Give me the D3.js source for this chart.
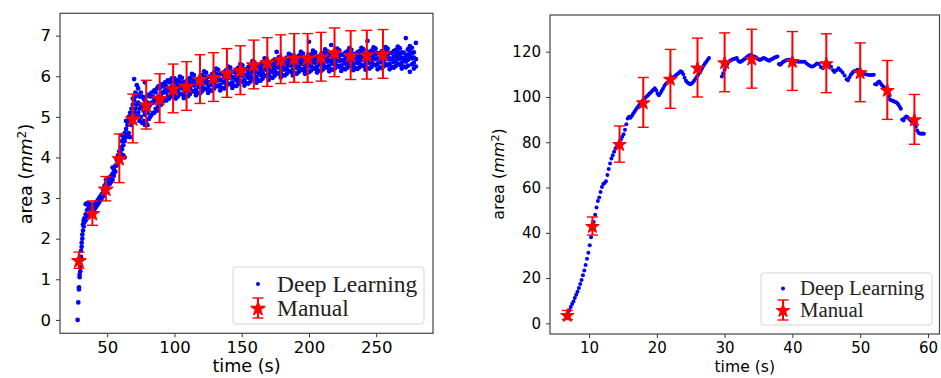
<!DOCTYPE html>
<html>
<head>
<meta charset="utf-8">
<script src="https://cdn.jsdelivr.net/npm/d3@7"></script>
<style>
  body { margin: 0; background: #fff; }
  svg { display: block; }
  .tick text { font-family: "DejaVu Sans", sans-serif; fill: #000; }
  .lbl { font-family: "DejaVu Sans", sans-serif; fill: #000; }
  .leg { font-family: "Liberation Serif", serif; fill: #222; }
</style>
</head>
<body>
<svg id="chart" width="941" height="378"></svg>
<script>
// ---- left panel: manual measurements (time, area, error)
const manualLeftTime = [29, 39, 49, 59, 69, 79, 89, 99, 109, 119, 129, 139, 149, 159, 169, 179, 189, 199, 209, 219, 231, 243, 255];
const manualLeftArea = [1.47, 2.63, 3.23, 3.98, 4.96, 5.30, 5.46, 5.70, 5.76, 5.93, 5.98, 6.08, 6.15, 6.29, 6.35, 6.42, 6.45, 6.45, 6.48, 6.59, 6.52, 6.53, 6.55];
const manualLeftErr = [0.2, 0.3, 0.3, 0.6, 0.6, 0.6, 0.6, 0.6, 0.6, 0.6, 0.6, 0.6, 0.6, 0.6, 0.6, 0.6, 0.6, 0.6, 0.6, 0.6, 0.6, 0.6, 0.6];

// ---- left panel: deep learning readings, rows of [time, area, area, ...]
const deepLeftRows = [
  [28,0.0],[28.5,0.43],[29,0.75,0.8],[29.5,1.05,1.12],[30,1.2,1.3,1.5],[30.5,1.55,1.7],[31,1.8,1.9],[31.5,2.0,2.1],
  [32,2.2,2.35],[32.5,2.3,2.45],[33,2.4,2.5],[34,2.45,2.6,2.85],[35,2.55,2.7,2.87],[36,2.6,2.75,2.87],[37,2.6,2.8,2.85],
  [38,2.65,2.75],[39,2.7,2.8],[40,2.7,2.8],[41,2.75,2.85],[42,2.8,2.9],[43,2.85,2.95],[44,2.9,3.0],[45,2.95,3.05],
  [46,3.0,3.1],[47,3.05,3.2],[48,3.15,3.3],[49,3.2,3.35,3.45],[50,3.3,3.45],[51,3.35,3.5],[52,3.35,3.5],[53,3.4,3.55],
  [54,3.45,3.6,3.75],[55,3.55,3.7],[56,3.65,3.8],[57,3.8,3.95],[58,3.9,4.05],[59,3.95,4.15],[60,4.1,4.25],
  [61,4.2,4.4,4.55],[62,4.05,4.3,4.5],[63,4.0,4.4,4.6],[64,4.5,4.7,4.9],[65,4.55,4.8],[66,4.6,4.9,5.0],[67,4.5,4.9,5.1],
  [68,4.8,5.0,5.2],[69,5.0,5.3,5.45],[70,5.1,5.4,5.93],[71,5.2,5.5,5.6],[72,5.0,5.3,5.55,5.78],[73,5.1,5.35,5.7],
  [74,4.9,5.2,5.5],[75,5.0,5.3,5.6],[76,4.85,5.25,5.5],[77,4.9,5.15,5.45],[78,4.8,5.05,5.4,5.85],[79,4.85,5.2,5.5],
  [80,4.8,5.1,5.35],[81,4.95,5.25,5.55],[82,5.0,5.3,5.5],[83,5.05,5.35,5.6],[84,5.1,5.35,5.5],[85,5.1,5.4,5.65],
  [86,5.2,5.45,5.6],[87,5.15,5.4,5.7],[88,5.25,5.5,5.75],[89,5.3,5.5,5.7],[90,5.3,5.55,5.8],[91,5.35,5.6,5.75],
  [92,5.4,5.6,5.8],[93,5.45,5.65,5.85],[94,5.4,5.6,5.75],[95,5.5,5.7,5.9],[96,5.45,5.65,5.85],[97,5.5,5.7,5.9],
  [98,5.55,5.75,5.95],[99,5.5,5.7,5.85],[100,5.55,5.75,5.95],
  [101,5.45,5.59,5.72,5.86],[102.5,5.5,5.64,5.77,5.9],[104,5.57,5.73,5.86,5.99],[105.5,5.55,5.7,5.82,5.96],
  [107,5.46,5.6,5.73,5.86],[108.5,5.52,5.7,5.86],[110,5.51,5.65,5.78,5.92],[111.5,5.56,5.7,5.83,5.96],
  [113,5.64,5.8,5.93,6.06],[114.5,5.62,5.77,5.89,6.03],[116,5.53,5.67,5.8,5.93],[117.5,5.59,5.77,5.93],
  [119,5.58,5.72,5.85,5.99],[120.5,5.63,5.77,5.9,6.03],[122,5.7,5.86,5.99,6.12],[123.5,5.68,5.83,5.95,6.09],
  [125,5.59,5.73,5.86,5.99],[126.5,5.65,5.83,5.99],[128,5.64,5.78,5.91,6.05],[129.5,5.7,5.84,5.97,6.1],
  [131,5.77,5.93,6.06,6.19],[132.5,5.75,5.9,6.02,6.16],[134,5.65,5.79,5.92,6.05],[135.5,5.71,5.89,6.05],
  [137,5.7,5.84,5.97,6.11],[138.5,5.75,5.89,6.02,6.15],[140,5.82,5.98,6.11,6.24],[141.5,5.8,5.95,6.07,6.21],
  [143,5.71,5.85,5.98,6.11],[144.5,5.77,5.95,6.11],[146,5.76,5.9,6.03,6.17],[147.5,5.81,5.95,6.08,6.21],
  [149,5.88,6.04,6.17,6.3],[150.5,5.86,6.01,6.13,6.27],[152,5.77,5.91,6.04,6.17],[153.5,5.83,6.01,6.17],
  [155,5.82,5.96,6.09,6.23],[156.5,5.87,6.01,6.14,6.27],[158,5.95,6.11,6.24,6.37],[159.5,5.93,6.08,6.2,6.34],
  [161,5.84,5.98,6.11,6.24],[162.5,5.9,6.08,6.24],[164,5.89,6.03,6.16,6.3],[165.5,5.94,6.08,6.21,6.34],
  [167,6.02,6.18,6.31,6.44],[168.5,6.0,6.15,6.27,6.41],[170,5.91,6.05,6.18,6.31],[171.5,5.97,6.15,6.31],
  [173,5.96,6.1,6.23,6.37],[174.5,6.01,6.15,6.28,6.41],[176,6.08,6.24,6.37,6.6],[177.5,6.06,6.21,6.33,6.47],
  [179,5.97,6.11,6.24,6.37],[180.5,6.03,6.21,6.37],[182,6.02,6.16,6.29,6.43],[183.5,6.06,6.2,6.33,6.46],
  [185,6.13,6.29,6.42,6.55],[186.5,6.11,6.26,6.38,6.52],[188,6.02,6.16,6.29,6.42],[189.5,6.08,6.26,6.42],
  [191,6.06,6.2,6.33,6.47],[192.5,6.11,6.25,6.38,6.51],[194,6.18,6.34,6.47,6.6],[195.5,6.15,6.3,6.42,6.56],
  [197,6.06,6.2,6.33,6.46],[198.5,6.11,6.29,6.45],[200,6.1,6.24,6.37,6.85],[201.5,6.14,6.28,6.41,6.54],
  [203,6.21,6.37,6.5,6.63],[204.5,6.18,6.33,6.45,6.59],[206,6.09,6.23,6.36,6.49],[207.5,6.14,6.32,6.48],
  [209,6.13,6.27,6.4,6.54],[210.5,6.17,6.31,6.44,6.57],[212,6.24,6.4,6.53,6.66],[213.5,6.21,6.36,6.48,6.62],
  [215,6.12,6.26,6.39,6.52],[216.5,6.17,6.35,6.77],[218,6.16,6.3,6.43,6.57],[219.5,6.2,6.34,6.47,6.6],
  [221,6.26,6.42,6.55,6.68],[222.5,6.23,6.38,6.5,6.64],[224,6.13,6.27,6.4,6.53],[225.5,6.19,6.37,6.53],
  [227,6.17,6.31,6.44,6.58],[228.5,6.21,6.35,6.48,6.61],[230,6.27,6.43,6.56,6.69],[231.5,6.24,6.39,6.51,6.65],
  [233,6.15,6.29,6.42,6.55],[234.5,6.2,6.38,6.54],[236,6.18,6.32,6.45,6.59],[237.5,6.22,6.36,6.49,6.62],
  [239,6.28,6.44,6.57,6.7],[240.5,6.25,6.4,6.52,6.66],[242,6.16,6.3,6.43,6.56],[243.5,6.21,6.39,6.87],
  [245,6.19,6.33,6.46,6.6],[246.5,6.23,6.37,6.5,6.63],[248,6.29,6.45,6.58,6.71],[249.5,6.27,6.42,6.54,6.68],
  [251,6.17,6.31,6.44,6.57],[252.5,6.22,6.4,6.56],[254,6.2,6.34,6.47,6.61],[255.5,6.24,6.38,6.51,6.64],
  [257,6.3,6.46,6.59,6.72],[258.5,6.27,6.42,6.54,6.68],[260,6.17,6.31,6.44,6.57],[261.5,6.23,6.41,6.57],
  [263,6.21,6.35,6.48,6.62],[264.5,6.25,6.39,6.52,6.65],[266,6.31,6.47,6.6,6.73],[267.5,6.28,6.43,6.55,6.69],
  [269,6.19,6.33,6.46,6.59],[270.5,6.24,6.42,6.58],[272,6.22,6.36,6.49,6.94],[273.5,6.26,6.4,6.53,6.66],
  [275,6.11,6.48,6.61,6.74],[276.5,6.29,6.44,6.56,6.7],[278,6.19,6.33,6.46,6.59],[279.5,6.24,6.42,6.82]
];

// ---- right panel: manual measurements
const manualRightTime = [6.8, 10.5, 14.5, 18, 22, 26, 30, 34, 40, 45, 50, 54, 58];
const manualRightArea = [3.7, 43.0, 79.2, 97.6, 108, 113, 115.3, 116.9, 115.9, 114.9, 110.9, 103.1, 90.1];
const manualRightErr = [2, 4, 8, 11, 13, 13, 13, 13, 13, 13, 13, 13, 11];

// ---- right panel: deep learning readings [time, area]
const deepRight = [
  [6.9,4.5],[7.1,5.8],[7.3,7.2],[7.5,8.5],[7.7,9.7],[7.9,11.2],[8.1,12.6],[8.3,14.0],[8.5,15.6],[8.7,17.4],[8.9,19.2],
  [9.1,21.2],[9.3,23.4],[9.5,25.8],[9.7,28.5],[9.9,31.2],[10.1,34.5],[10.3,38.0],[10.5,41.5],[10.7,44.8],[10.9,48.0],
  [11.1,51.2],[11.3,54.0],[11.5,55.6],[11.7,58.0],[11.9,60.2],[12.1,61.5],[12.3,62.0],[12.5,62.8],[12.7,65.5],[12.9,68.2],
  [13.1,70.6],[13.3,72.8],[13.5,74.2],[13.7,75.8],[13.9,77.2],[14.1,78.0],[14.3,79.0],[14.5,80.0],[14.7,81.2],[14.9,82.4],
  [15.1,83.5],[15.3,85.5],[15.5,88.0],[15.7,90.5],[15.9,91.3],[16.1,90.8],[16.3,91.6],[16.5,92.6],[16.7,93.5],[16.9,94.4],
  [17.1,95.2],[17.3,96.0],[17.5,96.8],[17.7,97.6],[17.9,98.3],[18.1,99.0],[18.3,99.6],[18.5,100.2],[18.7,100.8],[18.9,101.4],
  [19.1,102.0],[19.3,102.6],[19.5,103.2],[19.7,103.8],[19.9,103.0],[20.1,101.5],[20.3,100.8],[20.5,101.6],[20.7,102.6],
  [20.9,103.6],[21.1,104.8],[21.3,105.6],[21.5,106.2],[21.7,106.7],[21.9,107.2],[22.1,107.8],[22.3,108.3],[22.5,108.8],
  [22.7,109.3],[22.9,109.8],[23.1,110.3],[23.3,110.8],[23.5,111.3],[23.7,111.0],[23.9,110.0],[24.1,108.5],[24.3,107.2],
  [24.5,106.4],[24.7,106.0],[24.9,105.6],[25.1,105.8],[25.3,106.4],[25.5,107.2],[25.7,108.0],[25.9,108.9],[26.1,109.8],
  [26.3,110.8],[26.5,111.8],[26.7,112.8],[26.9,113.8],[27.1,114.8],[27.3,115.6],[27.5,116.4],[27.7,117.2],
  [29.6,109.0],[29.8,110.5],[30.0,112.0],[30.2,113.4],[30.4,114.6],[30.6,115.5],[30.8,116.0],[31.0,116.3],[31.2,116.6],
  [31.4,116.8],[31.6,117.0],[31.8,117.2],[32.0,116.0],[32.2,115.5],[32.4,115.6],[32.6,116.0],[32.8,116.4],[33.0,116.9],
  [33.2,117.4],[33.4,117.9],[33.6,118.3],[33.8,118.5],[34.0,118.3],[34.2,118.0],[34.4,117.8],[34.6,117.5],[34.8,117.0],
  [35.0,116.6],[35.2,116.3],[35.4,116.6],[35.6,117.0],[35.8,117.2],[36.0,116.9],[36.2,116.5],[36.4,116.2],[36.6,116.0],
  [36.8,116.4],[37.0,116.8],[37.2,117.1],[37.4,117.4],[37.6,117.7],[37.8,117.9],[38.0,114.6],[38.2,114.2],[38.4,114.8],
  [38.6,115.4],[38.8,115.8],[39.0,116.1],[39.2,116.3],[39.4,116.4],[39.6,116.3],[39.8,116.1],[40.0,116.0],[40.3,115.8],
  [40.6,115.7],[40.9,115.6],[41.2,115.6],[41.5,115.6],[41.8,115.5],[42.1,114.8],[42.4,114.1],[42.7,113.6],[43.0,113.4],
  [43.3,114.0],[43.6,114.8],[43.9,114.6],[44.2,113.2],[44.5,112.7],[44.8,114.0],[45.1,115.0],[45.4,114.2],[45.7,113.3],
  [46.0,111.8],[46.2,111.0],[46.5,111.8],[46.8,112.7],[47.1,111.8],[47.4,110.8],[47.7,109.5],[48.0,107.8],[48.2,107.4],
  [48.4,108.6],[48.6,109.7],[48.8,110.5],[49.0,111.2],[49.3,111.6],[49.6,112.0],[49.9,111.6],[50.2,111.0],[50.5,110.4],
  [50.8,110.0],[51.1,109.8],[51.4,109.7],[51.7,109.7],[52.0,109.8],[52.2,105.6],[52.4,105.5],[52.6,106.4],[52.8,106.8],
  [53.0,106.0],[53.2,105.2],[53.4,104.6],[53.6,104.0],[53.8,103.3],[54.0,102.0],[54.2,100.2],[54.4,98.8],[54.6,98.5],
  [54.8,98.3],[55.0,98.0],[55.2,97.8],[55.4,97.4],[55.6,96.8],[55.8,95.8],[56.0,94.8],[56.2,90.0],[56.4,89.6],[56.6,90.8],
  [56.8,91.4],[57.0,91.0],[57.2,90.4],[57.4,89.8],[57.6,89.2],[57.8,88.6],[58.0,87.8],[58.2,86.8],[58.4,85.2],[58.6,84.2],
  [58.8,83.9],[59.0,83.8],[59.2,83.9],[59.4,83.8]
];

const leftXTicks = [50, 100, 150, 200, 250];
const leftYTicks = [0, 1, 2, 3, 4, 5, 6, 7];
const rightXTicks = [10, 20, 30, 40, 50, 60];
const rightYTicks = [0, 20, 40, 60, 80, 100, 120];
const legendLabels = ['Deep Learning', 'Manual'];

const svg = d3.select('#chart');
const BLUE = '#0000ff', RED = '#ff0000';
const KA = 0.8908130915292852;

function drawPanel(cfg) {
  const x = d3.scaleLinear().domain(cfg.xDomain).range([cfg.left, cfg.right]);
  const y = d3.scaleLinear().domain(cfg.yDomain).range([cfg.bottom, cfg.top]);
  const g = svg.append('g');

  const xa = g.append('g').attr('transform', 'translate(0,' + cfg.bottom + ')')
    .call(d3.axisBottom(x).tickValues(cfg.xTicks).tickSize(4).tickPadding(4));
  const ya = g.append('g').attr('transform', 'translate(' + cfg.left + ',0)')
    .call(d3.axisLeft(y).tickValues(cfg.yTicks).tickSize(4).tickPadding(5));
  [xa, ya].forEach(a => {
    a.select('.domain').remove();
    a.selectAll('line').attr('stroke', '#333');
    a.selectAll('text').style('font-size', cfg.tickFont + 'px');
  });

  // deep learning dots
  g.append('g').selectAll('circle').data(cfg.dots).join('circle')
    .attr('cx', d => x(d[0])).attr('cy', d => y(d[1]))
    .attr('r', cfg.dotR).attr('fill', BLUE);

  // manual error bars + stars
  const man = cfg.mTime.map((t, i) => ({ t: t, v: cfg.mArea[i], e: cfg.mErr[i] }));
  const eb = g.append('g').attr('stroke', RED).attr('stroke-width', 2);
  eb.selectAll('line.v').data(man).join('line').attr('class', 'v')
    .attr('x1', d => x(d.t)).attr('x2', d => x(d.t))
    .attr('y1', d => y(d.v - d.e)).attr('y2', d => y(d.v + d.e));
  eb.selectAll('line.c1').data(man).join('line').attr('class', 'c1')
    .attr('x1', d => x(d.t) - cfg.cap).attr('x2', d => x(d.t) + cfg.cap)
    .attr('y1', d => y(d.v + d.e)).attr('y2', d => y(d.v + d.e)).attr('stroke-width', 1.4);
  eb.selectAll('line.c2').data(man).join('line').attr('class', 'c2')
    .attr('x1', d => x(d.t) - cfg.cap).attr('x2', d => x(d.t) + cfg.cap)
    .attr('y1', d => y(d.v - d.e)).attr('y2', d => y(d.v - d.e)).attr('stroke-width', 1.4);
  const star = d3.symbol(d3.symbolStar, cfg.starR * cfg.starR / KA);
  g.append('g').selectAll('path').data(man).join('path')
    .attr('d', star).attr('fill', RED).attr('stroke', RED).attr('stroke-width', 1.2)
    .attr('stroke-linejoin', 'round')
    .attr('transform', d => 'translate(' + x(d.t) + ',' + (y(d.v) + cfg.starR * 0.1) + ')');

  // frame
  g.append('rect').attr('x', cfg.left).attr('y', cfg.top)
    .attr('width', cfg.right - cfg.left).attr('height', cfg.bottom - cfg.top)
    .attr('fill', 'none').attr('stroke', '#444').attr('stroke-width', 1.2);

  // axis labels
  g.append('text').attr('class', 'lbl').attr('x', (cfg.left + cfg.right) / 2).attr('y', cfg.xLabelY)
    .attr('text-anchor', 'middle').style('font-size', cfg.labelFont + 'px').text('time (s)');
  const yl = g.append('text').attr('class', 'lbl').attr('text-anchor', 'middle')
    .attr('transform', 'translate(' + cfg.yLabelX + ',' + cfg.yLabelY + ') rotate(-90)')
    .style('font-size', cfg.yLabelFont + 'px');
  yl.append('tspan').text('area (');
  yl.append('tspan').style('font-style', 'italic').text('mm');
  yl.append('tspan').attr('dy', '-0.45em').style('font-size', '0.7em').text('2');
  yl.append('tspan').attr('dy', '0.315em').text(')');

  // legend
  const L = cfg.legend;
  const lg = g.append('g');
  lg.append('rect').attr('x', L.x).attr('y', L.y).attr('width', L.w).attr('height', L.h)
    .attr('rx', 3).attr('fill', '#fff').attr('fill-opacity', 0.8).attr('stroke', '#d6d6d6');
  lg.append('circle').attr('cx', L.mx).attr('cy', L.row1).attr('r', 2).attr('fill', BLUE);
  lg.append('line').attr('x1', L.mx).attr('x2', L.mx).attr('y1', L.row2 - 10).attr('y2', L.row2 + 10)
    .attr('stroke', RED).attr('stroke-width', 2);
  [-10, 10].forEach(o => lg.append('line').attr('x1', L.mx - cfg.cap).attr('x2', L.mx + cfg.cap)
    .attr('y1', L.row2 + o).attr('y2', L.row2 + o).attr('stroke', RED).attr('stroke-width', 1.4));
  lg.append('path').attr('d', star).attr('fill', RED).attr('stroke', RED).attr('stroke-width', 1.2)
    .attr('stroke-linejoin', 'round')
    .attr('transform', 'translate(' + L.mx + ',' + (L.row2 + cfg.starR * 0.1) + ')');
  [L.row1, L.row2].forEach((r, i) => lg.append('text').attr('class', 'leg')
    .attr('x', L.tx).attr('y', r).attr('dy', '0.33em')
    .style('font-size', L.font + 'px').text(legendLabels[i]));
}

const deepLeft = [];
deepLeftRows.forEach(row => row.slice(1).forEach(v => deepLeft.push([row[0], v])));

drawPanel({
  left: 60, right: 433, top: 13.3, bottom: 333.3,
  xDomain: [14.9, 292.2], yDomain: [-0.33, 7.55],
  xTicks: leftXTicks, yTicks: leftYTicks, tickFont: 16.5,
  dots: deepLeft, dotR: 2.35,
  mTime: manualLeftTime, mArea: manualLeftArea, mErr: manualLeftErr,
  cap: 5.5, starR: 7.4,
  labelFont: 17.6, xLabelY: 372,
  yLabelFont: 17.6, yLabelX: 32, yLabelY: 174,
  legend: { x: 233, y: 267, w: 191, h: 57, mx: 258, row1: 284, row2: 308, tx: 277, font: 23.5 }
});

drawPanel({
  left: 550, right: 939.5, top: 15, bottom: 334,
  xDomain: [4.24, 61.7], yDomain: [-4.7, 136.2],
  xTicks: rightXTicks, yTicks: rightYTicks, tickFont: 15,
  dots: deepRight, dotR: 2,
  mTime: manualRightTime, mArea: manualRightArea, mErr: manualRightErr,
  cap: 5.5, starR: 6.8,
  labelFont: 15.6, xLabelY: 372,
  yLabelFont: 16, yLabelX: 504, yLabelY: 174,
  legend: { x: 761, y: 273, w: 171, h: 52, mx: 783, row1: 288.5, row2: 310, tx: 800, font: 20.8 }
});
</script>
</body>
</html>
